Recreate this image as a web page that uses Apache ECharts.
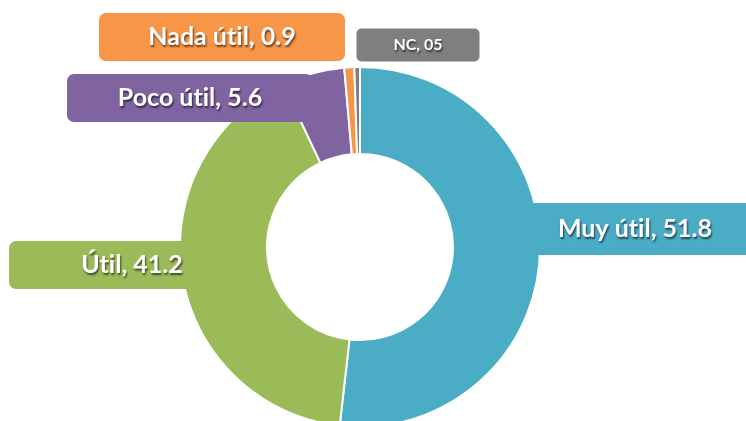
<!DOCTYPE html>
<html>
<head>
    <meta charset="utf-8">
    <title>Utilidad</title>
    <script src="https://cdn.jsdelivr.net/npm/echarts@6/dist/echarts.min.js"></script>
    <style>
        html, body {margin:0;padding:0;background:#fff;}
        #chart {width:746px;height:421px;}
    </style>
</head>
<body>
<div id="chart"></div>
<script>
    // datos
    var categorias = ['Muy útil', 'Útil', 'Poco útil', 'Nada útil', 'NC'];
    var valores = [51.8, 41.2, 5.6, 0.9, 0.5];
    var textoValor = ['51.8', '41.2', '5.6', '0.9', '05'];
    var colores = ['#4bacc6', '#9bbb59', '#8064a2', '#f79646', '#7f7f7f'];

    // donde va cada etiqueta (centro de la caja)
    var posEtiqueta = [[635, 229], [132, 265], [190, 98], [222, 37], [418, 45]];

    var chart = echarts.init(document.getElementById('chart'));

    var datos = categorias.map(function (c, i) {
        var peq = c === 'NC';
        return {
            name: c,
            value: valores[i],
            itemStyle: {color: colores[i]},
            label: {
                backgroundColor: colores[i],
                width: peq ? 123 : 246,
                height: peq ? 33 : (i === 0 ? 52 : 48),
                lineHeight: peq ? 33 : (i === 0 ? 52 : 48),
                fontSize: peq ? 16 : 25,
                borderRadius: peq ? 5 : 7
            }
        };
    });

    var option = {
        animation: false,
        series: [
            {
                type: 'pie',
                center: [360, 247],
                radius: [93, 180],
                startAngle: 90,
                avoidLabelOverlap: false,
                itemStyle: {borderColor: '#fff', borderWidth: 2},
                labelLine: {show: false},
                label: {
                    show: true,
                    position: 'outside',
                    color: '#fff',
                    fontFamily: 'Lato',
                    fontWeight: 'bold',
                    align: 'center',
                    verticalAlign: 'middle',
                    textShadowColor: 'rgba(0,0,0,0.6)',
                    textShadowBlur: 2,
                    textShadowOffsetX: 1,
                    textShadowOffsetY: 2,
                    formatter: function (p) {
                        // sin la ligadura "ti" de Lato
                        return p.name.replace('ti', 't\u200Ci') + ', ' + textoValor[p.dataIndex];
                    }
                },
                labelLayout: function (p) {
                    var xy = posEtiqueta[p.dataIndex];
                    return {x: xy[0], y: xy[1], align: 'center', verticalAlign: 'middle'};
                },
                data: datos
            }
        ]
    };
    chart.setOption(option);
</script>
</body>
</html>
